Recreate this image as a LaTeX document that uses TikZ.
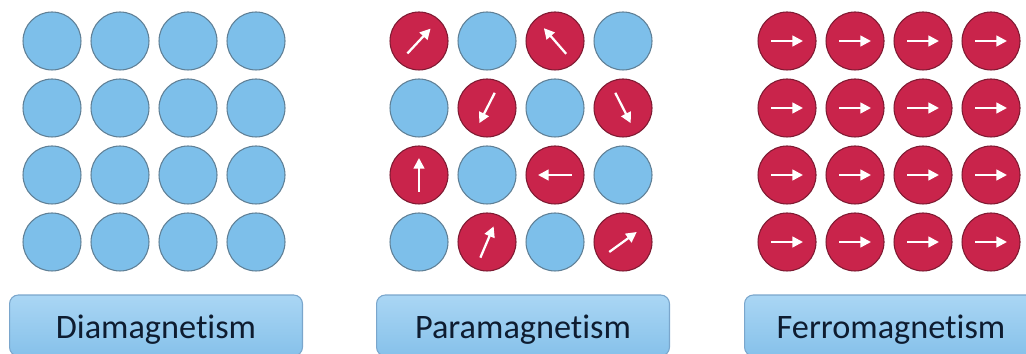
\documentclass[tikz,border=0pt]{standalone}
\usepackage{fontspec}
\setmainfont{Carlito}[Ligatures={NoCommon}]
\usetikzlibrary{arrows.meta}

\definecolor{atomblue}{HTML}{7DBFEA}
\definecolor{atomblueline}{HTML}{5F7F95}
\definecolor{atomred}{HTML}{C9244B}
\definecolor{atomredline}{HTML}{7E1A32}
\definecolor{boxtop}{HTML}{AAD6F4}
\definecolor{boxbottom}{HTML}{86C1EA}
\definecolor{boxline}{HTML}{7AA6CC}
\definecolor{labeltext}{HTML}{0E1C30}

\begin{document}
\begin{tikzpicture}[
    x=0.02cm, y=0.02cm,
    atom/.style={circle, draw, line width=0.6pt, minimum size=1.16cm, inner sep=0pt},
    idle/.style={atom, fill=atomblue, draw=atomblueline},
    spinning/.style={atom, fill=atomred, draw=atomredline},
    spin/.style={-{Triangle[length=6pt, width=6pt]}, white, line width=1.3pt},
    namebox/.style={draw=boxline, line width=0.6pt, rounded corners=5pt,
        top color=boxtop, bottom color=boxbottom, text=labeltext,
        minimum width=5.86cm, minimum height=1.22cm,
        text height=17.5pt, text depth=2.2pt,
        font=\fontsize{19.5}{23}\selectfont}
]
\useasboundingbox (0,0) rectangle (1026,354);
\clip (0,0) rectangle (1026,354);

% diamagnetism: no moments at all
\foreach \r in {1,...,4}
  \foreach \c in {1,...,4}
    \node[idle] (dia-\r-\c) at ({-16+68*\c},{380-67*\r}) {};

% paramagnetism: random moments on a checkerboard
\foreach \r/\c in {1/2,1/4,2/1,2/3,3/2,3/4,4/1,4/3}
  \node[idle] (para-\r-\c) at ({351+68*\c},{380-67*\r}) {};
\foreach \r/\c/\a in {1/1/47,1/3/131,2/2/243,2/4/297,3/1/90,3/3/180,4/2/67,4/4/36}{
  \node[spinning] (para-\r-\c) at ({351+68*\c},{380-67*\r}) {};
  \draw[spin] ([shift={(\a+180:17)}]para-\r-\c.center) -- ([shift={(\a:17)}]para-\r-\c.center);
}

% ferromagnetism: all moments aligned
\foreach \r in {1,...,4}
  \foreach \c in {1,...,4}{
    \node[spinning] (ferro-\r-\c) at ({719+68*\c},{380-67*\r}) {};
    \draw[spin] ([xshift=-16*0.02cm]ferro-\r-\c.center) -- ([xshift=16*0.02cm]ferro-\r-\c.center);
  }

% labels
\node[namebox] (dialabel) at (156,28.5) {Diamagnetism};
\node[namebox] (paralabel) at (523,28.5) {Paramagnetism};
\node[namebox] (ferrolabel) at (891,28.5) {Ferromagnetism};
\end{tikzpicture}
\end{document}
